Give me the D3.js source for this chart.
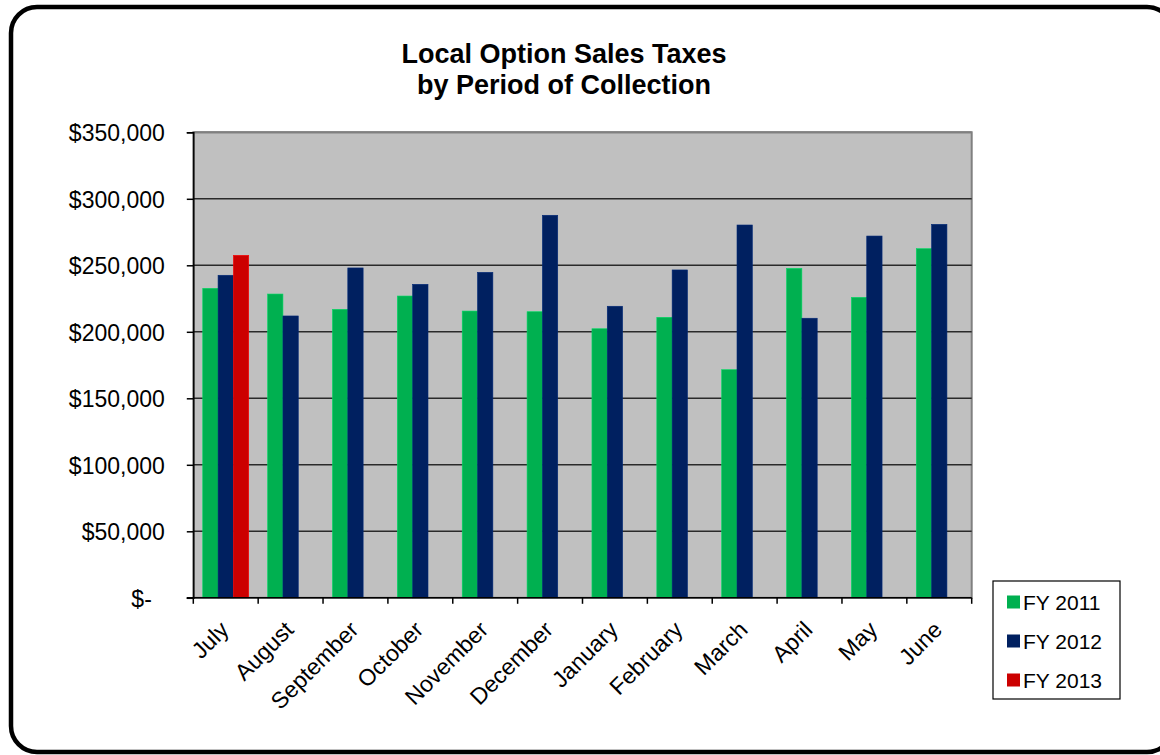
<!DOCTYPE html>
<html lang="en">
  <head>
    <meta charset="utf-8">
    <title>Local Option Sales Taxes</title>
    <script src="https://cdn.jsdelivr.net/npm/d3@7/dist/d3.min.js"></script>
    <style>
      body { margin: 0; background: #fff; }
      svg { display: block; font-family: "Liberation Sans", Arial, sans-serif; }
    </style>
  </head>
  <body>
    <div id="chart"></div>
  </body>
</html>

<script>

const months = ["July", "August", "September", "October", "November", "December",
  "January", "February", "March", "April", "May", "June"]
const seriesNames = ["FY 2011", "FY 2012", "FY 2013"]
const fy2011 = [232700, 228400, 216900, 226900, 215600, 215100, 202300, 210900, 171500, 247700, 225900, 262500]
const fy2012 = [242500, 211900, 248000, 235700, 244700, 287600, 219200, 246500, 280300, 210200, 272000, 280800]
const fy2013 = [257500, null, null, null, null, null, null, null, null, null, null, null]
const yTicks = [0, 50000, 100000, 150000, 200000, 250000, 300000, 350000]
const colors = ["#00b050", "#002060", "#cc0000"]

const width = 1160, height = 755
const plot = { left: 193.3, right: 971.7, top: 132.3, bottom: 597.8 }

const svg = d3.select("#chart").append("svg")
  .attr("width", width)
  .attr("height", height)

// outer rounded frame
svg.append("rect")
  .attr("x", 11).attr("y", 7)
  .attr("width", 1162).attr("height", 745)
  .attr("rx", 26)
  .style("fill", "#fff")
  .style("stroke", "#000")
  .style("stroke-width", 4.5)

svg.append("text")
  .attr("x", 564).attr("y", 63)
  .attr("text-anchor", "middle")
  .style("font-size", "27px").style("font-weight", "bold")
  .text("Local Option Sales Taxes")
svg.append("text")
  .attr("x", 564).attr("y", 94)
  .attr("text-anchor", "middle")
  .style("font-size", "27px").style("font-weight", "bold")
  .text("by Period of Collection")

const x0 = d3.scaleBand()
  .domain(months)
  .range([plot.left, plot.right])

const x1 = d3.scaleBand()
  .domain(seriesNames)
  .range([0, x0.bandwidth()])
  .paddingOuter(0.617)

const y = d3.scaleLinear()
  .domain([0, 350000])
  .range([plot.bottom, plot.top])

// plot background
svg.append("rect")
  .attr("x", plot.left).attr("y", plot.top)
  .attr("width", plot.right - plot.left).attr("height", plot.bottom - plot.top)
  .style("fill", "#c0c0c0")
  .style("stroke", "#808080")
  .style("stroke-width", 2)

// gridlines
svg.append("g")
  .selectAll("line")
  .data(yTicks.filter(d => d > 0))
  .join("line")
  .attr("x1", plot.left).attr("x2", plot.right)
  .attr("y1", d => y(d)).attr("y2", d => y(d))
  .style("stroke", d => d === 350000 ? "#808080" : "#2a2a2a")
  .style("stroke-width", d => d === 350000 ? 2 : 1.5)

const rows = months.map((m, i) => ({ month: m, values: [fy2011[i], fy2012[i], fy2013[i]] }))

svg.append("g")
  .selectAll("g")
  .data(rows)
  .join("g")
  .attr("transform", d => `translate(${x0(d.month)},0)`)
  .selectAll("rect")
  .data(d => d.values.map((v, k) => ({ key: seriesNames[k], value: v, k })).filter(e => e.value != null))
  .join("rect")
  .attr("x", d => x1(d.key))
  .attr("width", x1.bandwidth())
  .attr("y", d => y(d.value))
  .attr("height", d => y(0) - y(d.value))
  .style("fill", d => colors[d.k])
  .style("stroke", d => d3.color(colors[d.k]).brighter(0.6))
  .style("stroke-width", 0.6)

// y axis
const yAxis = svg.append("g")
  .attr("transform", `translate(${plot.left},0)`)
  .call(d3.axisLeft(y).tickValues(yTicks).tickSize(6.5).tickPadding(22)
    .tickFormat(d => d === 0 ? "$-" : "$" + d3.format(",")(d)))
yAxis.select(".domain").style("stroke", "#000").style("stroke-width", 1.5)
yAxis.selectAll(".tick line").style("stroke", "#000").style("stroke-width", 1.5)
yAxis.selectAll("text")
  .style("font-size", "23px").style("fill", "#000")
  .attr("dy", "0.36em")
yAxis.selectAll(".tick").filter(d => d === 0).select("text").attr("dx", -13)

// x axis
const xAxis = svg.append("g")
  .attr("transform", `translate(0,${plot.bottom})`)
xAxis.append("line")
  .attr("x1", plot.left - 6.5).attr("x2", plot.right)
  .style("stroke", "#000").style("stroke-width", 1.5)
xAxis.selectAll(".xtick")
  .data(months.map(m => x0(m)).concat([plot.right]))
  .join("line")
  .attr("class", "xtick")
  .attr("x1", d => d).attr("x2", d => d)
  .attr("y1", 0).attr("y2", 6)
  .style("stroke", "#000").style("stroke-width", 1.5)
xAxis.selectAll(".xlabel")
  .data(months)
  .join("text")
  .attr("class", "xlabel")
  .attr("text-anchor", "end")
  .attr("transform", d => `translate(${x0(d) + x0.bandwidth() / 2 - 7},${22}) rotate(-45)`)
  .attr("dy", "0.7em")
  .style("font-size", "23px")
  .text(d => d)

// legend
const legend = svg.append("g").attr("transform", "translate(993,581)")
legend.append("rect")
  .attr("width", 127).attr("height", 118)
  .style("fill", "#fff").style("stroke", "#000").style("stroke-width", 1.2)
const items = legend.selectAll(".item")
  .data(seriesNames)
  .join("g")
  .attr("class", "item")
  .attr("transform", (d, i) => `translate(14,${21 + i * 39})`)
items.append("rect")
  .attr("x", 0).attr("y", -6.5)
  .attr("width", 13).attr("height", 13)
  .style("fill", (d, i) => colors[i])
items.append("text")
  .attr("x", 16).attr("dy", "0.36em")
  .style("font-size", "21px")
  .text(d => d)

</script>
